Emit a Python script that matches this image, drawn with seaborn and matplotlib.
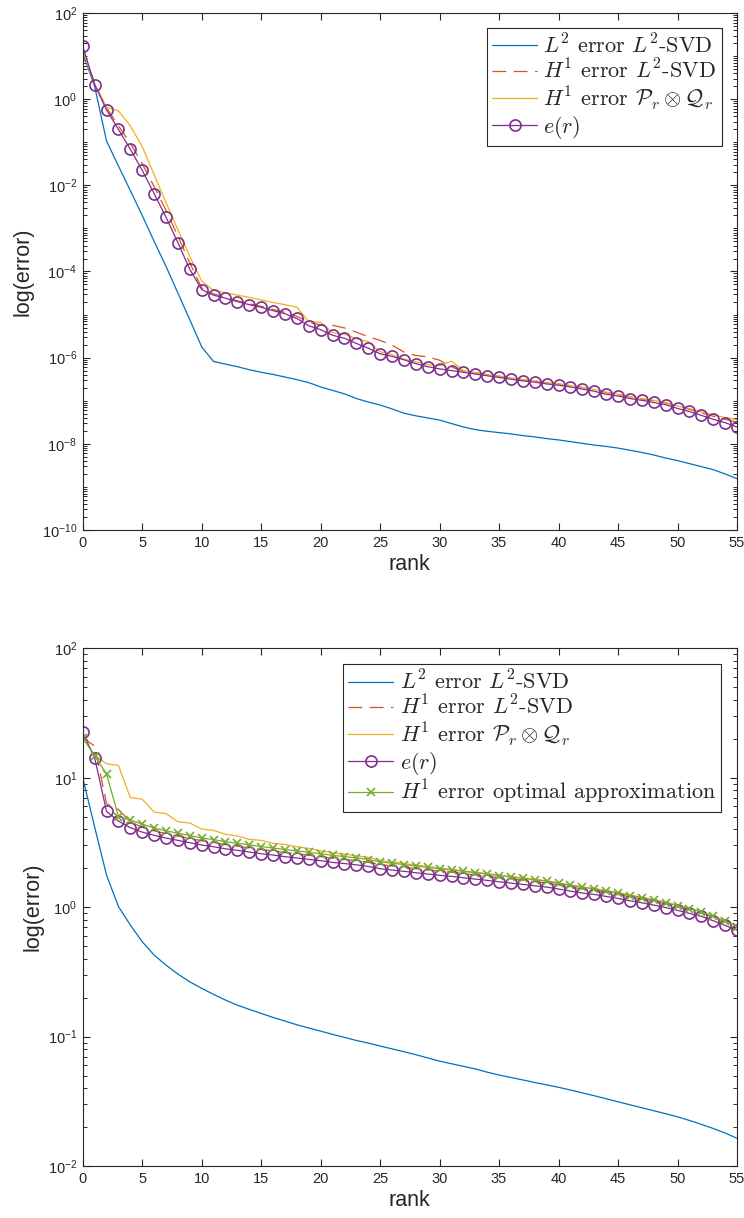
import numpy as np
import pandas as pd
import matplotlib
matplotlib.use("Agg")
import matplotlib.pyplot as plt
import matplotlib.ticker as mticker
from matplotlib.font_manager import FontProperties
import seaborn as sns

# values, stored as log10(error)
rank = np.arange(0, 56)

top_l2_svd = [1.07, 0.30, -0.97, -1.55, -2.12, -2.70, -3.30, -3.88, -4.50, -5.12,
              -5.75, -6.09, -6.15, -6.21, -6.28, -6.34, -6.39, -6.45, -6.51, -6.58,
              -6.68, -6.76, -6.84, -6.95, -7.03, -7.10, -7.19, -7.29, -7.35, -7.40,
              -7.45, -7.53, -7.61, -7.67, -7.71, -7.74, -7.77, -7.81, -7.84, -7.88,
              -7.91, -7.95, -7.99, -8.03, -8.06, -8.10, -8.15, -8.20, -8.26, -8.33,
              -8.39, -8.46, -8.53, -8.60, -8.70, -8.81]
top_h1_l2svd = [1.15, 0.36, -0.20, -0.62, -1.02, -1.50, -2.03, -2.58, -3.18, -3.80,
                -4.38, -4.52, -4.60, -4.68, -4.75, -4.81, -4.88, -4.95, -5.04, -5.18,
                -5.24, -5.25, -5.31, -5.41, -5.51, -5.60, -5.71, -5.87, -5.95, -5.98,
                -6.06, -6.22, -6.31, -6.35, -6.39, -6.43, -6.47, -6.51, -6.54, -6.58,
                -6.61, -6.65, -6.69, -6.74, -6.81, -6.86, -6.91, -6.96, -7.00, -7.05,
                -7.13, -7.20, -7.28, -7.36, -7.43, -7.50]
top_h1_pq = [1.13, 0.36, -0.19, -0.27, -0.62, -1.10, -1.75, -2.40, -3.03, -3.65,
             -4.22, -4.44, -4.49, -4.55, -4.60, -4.66, -4.72, -4.77, -4.83, -5.16,
             -5.18, -5.42, -5.46, -5.56, -5.63, -5.86, -5.93, -6.03, -6.10, -6.16,
             -6.19, -6.08, -6.30, -6.35, -6.39, -6.43, -6.47, -6.51, -6.54, -6.58,
             -6.61, -6.65, -6.69, -6.74, -6.80, -6.85, -6.90, -6.95, -6.99, -7.04,
             -7.12, -7.18, -7.26, -7.33, -7.39, -7.44]
top_e = [1.23, 0.34, -0.25, -0.70, -1.16, -1.65, -2.19, -2.74, -3.33, -3.95,
         -4.42, -4.55, -4.62, -4.70, -4.77, -4.83, -4.91, -4.98, -5.09, -5.26,
         -5.35, -5.48, -5.55, -5.67, -5.78, -5.91, -5.97, -6.05, -6.14, -6.21,
         -6.26, -6.30, -6.34, -6.38, -6.42, -6.46, -6.50, -6.54, -6.57, -6.61,
         -6.64, -6.68, -6.73, -6.78, -6.85, -6.89, -6.95, -6.99, -7.04, -7.09,
         -7.18, -7.25, -7.34, -7.43, -7.51, -7.61]

bot_l2_svd = [1.00, 0.62, 0.248, 0.005, -0.138, -0.267, -0.370, -0.448, -0.517, -0.577,
              -0.627, -0.674, -0.718, -0.757, -0.790, -0.821, -0.852, -0.880, -0.909, -0.934,
              -0.958, -0.983, -1.006, -1.030, -1.050, -1.073, -1.095, -1.117, -1.140, -1.165,
              -1.190, -1.210, -1.230, -1.250, -1.275, -1.297, -1.316, -1.335, -1.355, -1.373,
              -1.392, -1.413, -1.435, -1.457, -1.480, -1.504, -1.527, -1.550, -1.573, -1.596,
              -1.620, -1.648, -1.678, -1.710, -1.745, -1.786]
bot_h1_l2svd = [1.31, 1.245, 0.80, 0.755, 0.660, 0.618, 0.590, 0.568, 0.549, 0.531,
                0.513, 0.499, 0.483, 0.471, 0.458, 0.445, 0.435, 0.422, 0.412, 0.401,
                0.391, 0.378, 0.369, 0.359, 0.347, 0.329, 0.319, 0.309, 0.298, 0.288,
                0.278, 0.270, 0.259, 0.249, 0.239, 0.228, 0.218, 0.208, 0.197, 0.187,
                0.172, 0.156, 0.141, 0.129, 0.114, 0.099, 0.080, 0.064, 0.046, 0.026,
                0.004, -0.019, -0.042, -0.077, -0.113, -0.150]
bot_h1_pq = [1.31, 1.175, 1.108, 1.095, 0.847, 0.834, 0.735, 0.723, 0.660, 0.650,
             0.604, 0.593, 0.563, 0.550, 0.524, 0.516, 0.493, 0.485, 0.467, 0.454,
             0.436, 0.420, 0.410, 0.397, 0.385, 0.362, 0.350, 0.338, 0.325, 0.314,
             0.302, 0.292, 0.281, 0.270, 0.259, 0.248, 0.237, 0.226, 0.215, 0.204,
             0.188, 0.172, 0.157, 0.144, 0.128, 0.113, 0.093, 0.077, 0.058, 0.038,
             0.015, -0.009, -0.033, -0.068, -0.104, -0.142]
bot_e = [1.350, 1.155, 0.740, 0.665, 0.614, 0.580, 0.555, 0.534, 0.516, 0.498,
         0.480, 0.467, 0.451, 0.439, 0.426, 0.413, 0.403, 0.390, 0.380, 0.369,
         0.359, 0.346, 0.337, 0.327, 0.315, 0.297, 0.287, 0.277, 0.266, 0.256,
         0.246, 0.238, 0.227, 0.217, 0.207, 0.196, 0.186, 0.176, 0.165, 0.155,
         0.140, 0.124, 0.109, 0.098, 0.083, 0.068, 0.049, 0.034, 0.016, -0.003,
         -0.025, -0.048, -0.071, -0.105, -0.141, -0.177]
bot_h1_opt = [1.310, 1.170, 1.030, 0.700, 0.673, 0.642, 0.612, 0.590, 0.572, 0.553,
              0.535, 0.522, 0.506, 0.494, 0.481, 0.468, 0.458, 0.445, 0.435, 0.424,
              0.413, 0.400, 0.391, 0.381, 0.368, 0.350, 0.340, 0.329, 0.318, 0.308,
              0.297, 0.288, 0.277, 0.266, 0.256, 0.244, 0.234, 0.223, 0.212, 0.201,
              0.185, 0.169, 0.153, 0.141, 0.125, 0.110, 0.090, 0.074, 0.055, 0.035,
              0.012, -0.012, -0.036, -0.072, -0.110, -0.150]

lab_l2 = r"$L^2$ error $L^2$-SVD"
lab_h1 = r"$H^1$ error $L^2$-SVD"
lab_pq = r"$H^1$ error $\mathcal{P}_r \otimes \mathcal{Q}_r$"
lab_e = r"$e(r)$"
lab_opt = r"$H^1$ error optimal approximation"

# MATLAB default colour order
c_blue, c_red, c_yel, c_pur, c_grn = "#0072BD", "#D95319", "#EDB120", "#7E2F8E", "#77AC30"

sns.set_style("ticks")
plt.rcParams["font.family"] = ["Liberation Sans", "DejaVu Sans"]
plt.rcParams["xtick.direction"] = "in"
plt.rcParams["ytick.direction"] = "in"
plt.rcParams["xtick.top"] = True
plt.rcParams["ytick.right"] = True
plt.rcParams["axes.linewidth"] = 0.8
plt.rcParams["axes.edgecolor"] = "#262626"
plt.rcParams["xtick.color"] = "#262626"
plt.rcParams["ytick.color"] = "#262626"

fig = plt.figure(figsize=(7.44, 12.18), dpi=100)
ax1 = fig.add_axes([0.1112, 0.5649, 0.8794, 0.4244])
ax2 = fig.add_axes([0.1112, 0.0427, 0.8794, 0.4250])

leg_font = FontProperties(family="cmr10", size=16, math_fontfamily="cm")


def decade_labels(labelled):
    def fmt(v, pos):
        if v <= 0:
            return ""
        k = int(np.round(np.log10(v)))
        if abs(v / 10.0 ** k - 1) < 1e-6 and k in labelled:
            return r"$\mathdefault{10^{%d}}$" % k
        return ""
    return mticker.FuncFormatter(fmt)


def set_ticks(ax, yexp, major_step):
    ax.set_yscale("log")
    ax.set_xlim(0, 55)
    ax.set_ylim(10.0 ** yexp[0], 10.0 ** yexp[1])
    ax.set_xticks(np.arange(0, 56, 5))
    ax.xaxis.set_minor_locator(mticker.NullLocator())
    # every 1..9 x 10^k position carries a short tick; only chosen decades get a label
    allpos = [m * 10.0 ** k for k in range(yexp[0], yexp[1]) for m in range(1, 10)] + [10.0 ** yexp[1]]
    labelled = list(range(yexp[0], yexp[1] + 1, major_step))
    ax.yaxis.set_major_locator(mticker.FixedLocator(allpos))
    ax.yaxis.set_major_formatter(decade_labels(labelled))
    # longer marks on the labelled decades
    ax.yaxis.remove_overlapping_locs = False
    ax.yaxis.set_minor_locator(mticker.FixedLocator([10.0 ** k for k in labelled]))
    ax.yaxis.set_minor_formatter(mticker.NullFormatter())
    ax.xaxis.set_tick_params(which="major", length=5, width=0.8, labelsize=10.5, pad=4)
    ax.yaxis.set_tick_params(which="major", length=3, width=0.7, labelsize=10.5, pad=4,
                             left=True, right=True)
    ax.yaxis.set_tick_params(which="minor", length=5, width=0.8, left=True, right=True)


def draw(ax, series, yexp, major_step, anchor, ypad):
    for vals, lab, col, kw in series:
        df = pd.DataFrame({"rank": rank, "err": np.power(10.0, vals)})
        sns.lineplot(data=df, x="rank", y="err", ax=ax, color=col, label=lab,
                     linewidth=0.9, **kw)
    set_ticks(ax, yexp, major_step)
    ax.set_xlabel("rank", fontsize=15.5, labelpad=3)
    ax.set_ylabel("log(error)", fontsize=15.5, labelpad=ypad)
    leg = ax.legend(loc="upper right", bbox_to_anchor=anchor, prop=leg_font,
                    frameon=True, fancybox=False, framealpha=1, edgecolor="#262626",
                    handlelength=2.0, handletextpad=0.3, borderpad=0.25, labelspacing=0.07,
                    borderaxespad=0)
    leg.get_frame().set_linewidth(0.8)


circ = dict(marker="o", markersize=8, markerfacecolor="none", markeredgecolor=c_pur,
            markeredgewidth=1.2)
cross = dict(marker="x", markersize=5.5, markeredgecolor=c_grn, markeredgewidth=1.2)
dash = dict(dashes=(11, 6))

draw(ax1, [(top_l2_svd, lab_l2, c_blue, {}),
           (top_h1_l2svd, lab_h1, c_red, dash),
           (top_h1_pq, lab_pq, c_yel, {}),
           (top_e, lab_e, c_pur, circ)], (-10, 2), 2, (0.977, 0.972), 6)

draw(ax2, [(bot_l2_svd, lab_l2, c_blue, {}),
           (bot_h1_l2svd, lab_h1, c_red, dash),
           (bot_h1_pq, lab_pq, c_yel, {}),
           (bot_e, lab_e, c_pur, circ),
           (bot_h1_opt, lab_opt, c_grn, cross)], (-2, 2), 1, (0.976, 0.970), 3)

fig.savefig("out.png", dpi=100)
